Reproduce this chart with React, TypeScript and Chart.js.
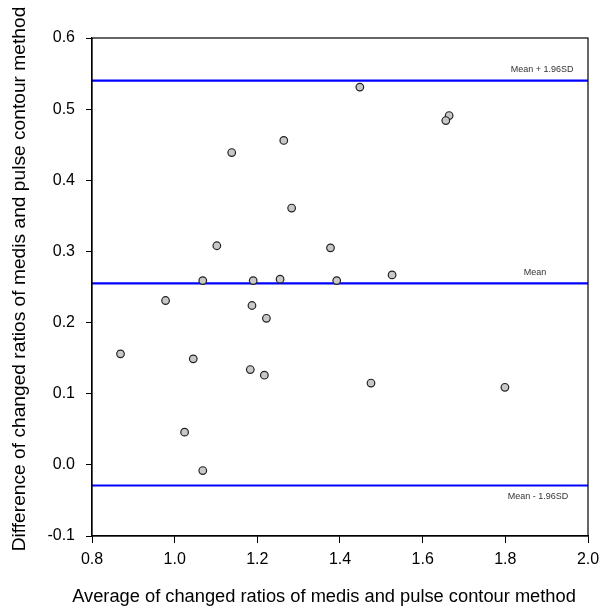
import React, { useEffect, useRef } from "react";
import { Chart, registerables } from "chart.js";

Chart.register(...registerables);

// Bland-Altman data
const avgValues = [
  1.448, 1.664, 1.656, 1.264, 1.138, 1.283, 1.102, 1.377, 1.526, 1.255, 1.068, 1.19,
  1.392, 0.978, 1.187, 1.222, 0.869, 1.045, 1.183, 1.217, 1.475, 1.799, 1.024, 1.068,
];
const diffValues = [
  0.531, 0.491, 0.484, 0.456, 0.439, 0.361, 0.308, 0.305, 0.267, 0.261, 0.259, 0.259,
  0.259, 0.231, 0.224, 0.206, 0.156, 0.149, 0.134, 0.126, 0.115, 0.109, 0.046, -0.008,
];
const meanDiff = 0.255;
const upperLoA = 0.54;
const lowerLoA = -0.029;
const xRange = [0.8, 2.0];
const yRange = [-0.1, 0.6];
const refLabels = ["Mean + 1.96SD", "Mean", "Mean - 1.96SD"];
const xTitle = "Average of changed ratios of medis and pulse contour method";
const yTitle = "Difference of changed ratios of medis and pulse contour method";

const FONT = "Arial, 'Liberation Sans', sans-serif";

const fmt = (v: any) => {
  const n = Number(v);
  return (Math.abs(n) < 1e-9 ? 0 : n).toFixed(1);
};

export default function App() {
  const ref = useRef<HTMLCanvasElement | null>(null);

  useEffect(() => {
    if (!ref.current) return;
    const points = avgValues.map((x, i) => ({ x, y: diffValues[i] }));
    const hline = (v: number) => [
      { x: xRange[0], y: v },
      { x: xRange[1], y: v },
    ];

    const framePlugin = {
      id: "frame",
      afterDatasetsDraw(chart: any) {
        const { ctx, chartArea: a, scales } = chart;
        ctx.save();
        ctx.strokeStyle = "#000";
        ctx.lineWidth = 1.2;
        ctx.strokeRect(a.left, a.top, a.right - a.left, a.bottom - a.top);
        ctx.font = `9px ${FONT}`;
        ctx.fillStyle = "#333";
        ctx.textAlign = "center";
        ctx.textBaseline = "middle";
        const xs = scales.x;
        const ys = scales.y;
        ctx.fillText(refLabels[0], xs.getPixelForValue(1.889), ys.getPixelForValue(upperLoA) - 11);
        ctx.fillText(refLabels[1], xs.getPixelForValue(1.872), ys.getPixelForValue(meanDiff) - 11);
        ctx.fillText(refLabels[2], xs.getPixelForValue(1.879), ys.getPixelForValue(lowerLoA) + 11);

        // axis titles
        ctx.fillStyle = "#000";
        ctx.font = `18.3px ${FONT}`;
        ctx.fillText(xTitle, 324, 597);
        ctx.translate(20, 279);
        ctx.rotate(-Math.PI / 2);
        ctx.font = `19.2px ${FONT}`;
        ctx.fillText(yTitle, 0, 0);
        ctx.restore();
      },
    };

    const lineDs = (v: number) => ({
      type: "line" as const,
      data: hline(v),
      borderColor: "#0000ff",
      borderWidth: 2.2,
      pointRadius: 0,
      fill: false,
      showLine: true,
      order: 2,
    });

    const chart = new Chart(ref.current, {
      type: "scatter",
      data: {
        datasets: [
          lineDs(upperLoA),
          lineDs(meanDiff),
          lineDs(lowerLoA),
          {
            type: "scatter",
            data: points,
            backgroundColor: "#c8c8c8",
            borderColor: "#222",
            borderWidth: 1.2,
            pointRadius: 3.8,
            order: 1,
          } as any,
        ],
      },
      options: {
        animation: false,
        responsive: false,
        layout: { padding: { top: 38, right: 20, left: 0, bottom: 0 } },
        plugins: {
          legend: { display: false },
          tooltip: { enabled: false },
        },
        scales: {
          x: {
            type: "linear",
            min: xRange[0],
            max: xRange[1],
            afterFit: (s: any) => {
              s.height = 74;
            },
            ticks: {
              stepSize: 0.2,
              color: "#000",
              padding: 7,
              font: { family: FONT, size: 16 },
              callback: fmt,
            },
            grid: {
              drawOnChartArea: false,
              drawTicks: true,
              tickLength: 7,
              color: "#000",
            },
            border: { display: true, color: "#000", width: 1.2 },
          },
          y: {
            type: "linear",
            min: yRange[0],
            max: yRange[1],
            afterFit: (s: any) => {
              s.width = 92;
            },
            ticks: {
              stepSize: 0.1,
              color: "#000",
              padding: 11,
              font: { family: FONT, size: 16 },
              callback: fmt,
            },
            grid: {
              drawOnChartArea: false,
              drawTicks: true,
              tickLength: 6,
              color: "#000",
            },
            border: { display: true, color: "#000", width: 1.2 },
          },
        },
      },
      plugins: [framePlugin],
    } as any);
    return () => chart.destroy();
  }, []);

  return (
    <div style={{ position: "absolute", left: 0, top: 0, width: 608, height: 610, background: "#fff" }}>
      <canvas ref={ref} width={608} height={610} style={{ width: 608, height: 610 }} />
    </div>
  );
}
